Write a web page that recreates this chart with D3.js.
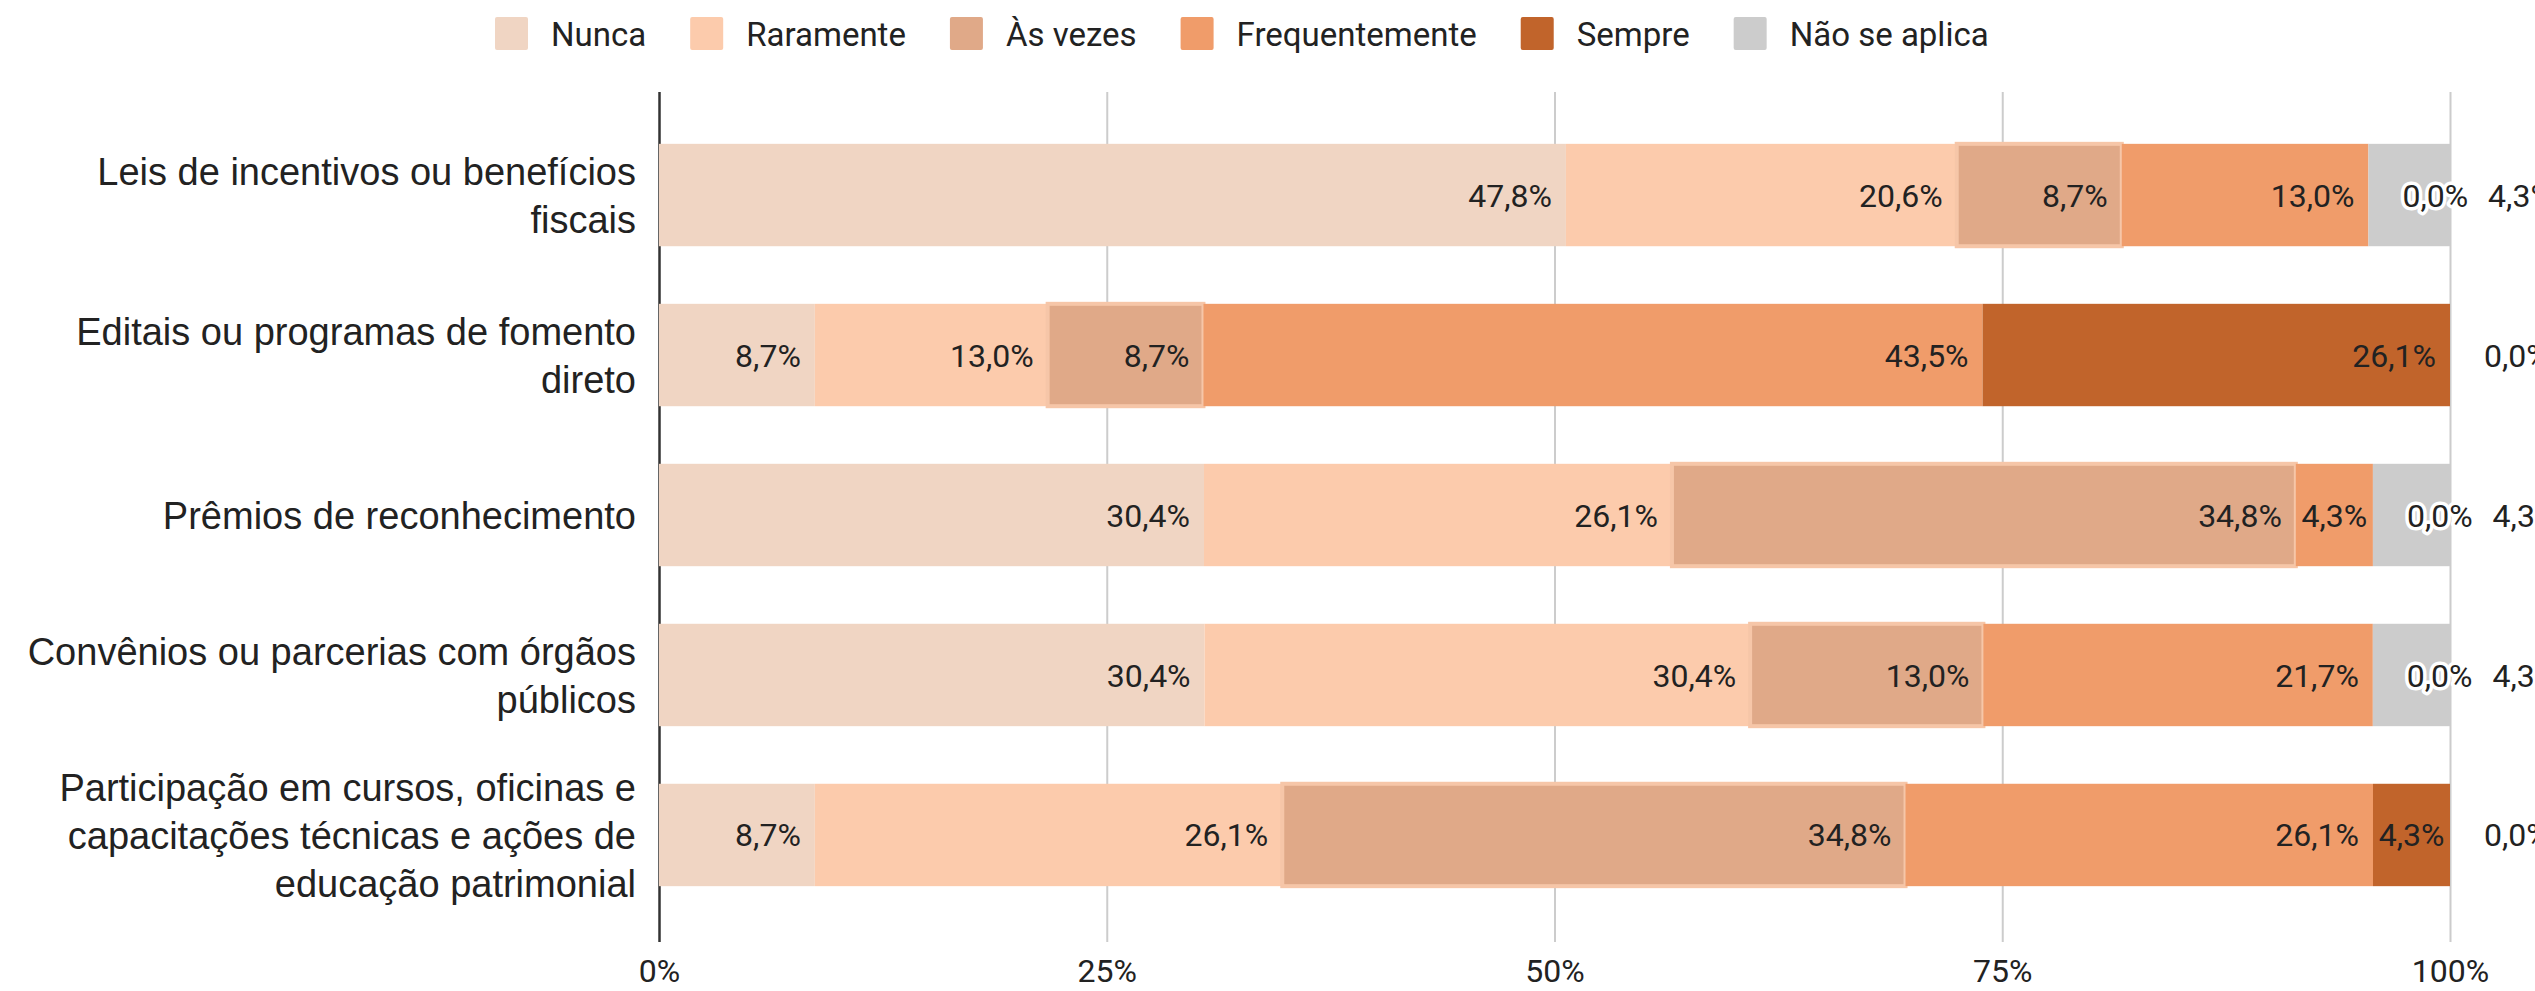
<!DOCTYPE html>
<meta charset="utf-8">
<style>
body { margin: 0; background: #fff; }
</style>
<svg width="2535" height="991"><style>
.grid line {
  stroke: #cccccc;
  stroke-width: 2px;
}

.grid text {
  font: 32px Roboto, sans-serif;
  fill: #222;
}

.cat text {
  font: 38px "Liberation Sans", Arial, sans-serif;
  fill: #222;
}

.legend text {
  font: 33px Roboto, sans-serif;
  fill: #222;
}

.val {
  font: 32px Roboto, sans-serif;
  fill: #222;
}

.val.out {
  stroke: #fff;
  stroke-width: 7px;
  stroke-linejoin: round;
  paint-order: stroke;
}
</style></svg>
<script src="https://d3js.org/d3.v7.min.js"></script>
<script>
  var categories = [
    "Leis de incentivos ou benefícios\nfiscais",
    "Editais ou programas de fomento\ndireto",
    "Prêmios de reconhecimento",
    "Convênios ou parcerias com órgãos\npúblicos",
    "Participação em cursos, oficinas e\ncapacitações técnicas e ações de\neducação patrimonial"
  ];
  var seriesNames = ["Nunca", "Raramente", "Às vezes", "Frequentemente", "Sempre", "Não se aplica"];
  var seriesColors = ["#f0d5c3", "#fccbac", "#e0a988", "#f09c6a", "#c1642b", "#cccccc"];

  var nunca          = [47.8,  8.7, 30.4, 30.4,  8.7];
  var raramente      = [20.6, 13.0, 26.1, 30.4, 26.1];
  var asVezes        = [ 8.7,  8.7, 34.8, 13.0, 34.8];
  var frequentemente = [13.0, 43.5,  4.3, 21.7, 26.1];
  var sempre         = [ 0.0, 26.1,  0.0,  0.0,  4.3];
  var naoSeAplica    = [ 4.3,  0.0,  4.3,  4.3,  0.0];

  var tickValues = [0, 0.25, 0.5, 0.75, 1];

  var allSeries = [nunca, raramente, asVezes, frequentemente, sempre, naoSeAplica];
  var rows = categories.map(function(c, i) {
    var r = { cat: c };
    seriesNames.forEach(function(s, j) { r[s] = allSeries[j][i]; });
    return r;
  });

  var svg = d3.select("svg");
  var pt = d3.formatLocale({ decimal: ",", thousands: ".", grouping: [3], currency: ["R$", ""] });
  var fmtVal = function(v) { return pt.format(".1f")(v) + "%"; };

  var x = d3.scaleLinear().domain([0, 1]).range([659, 2450]);
  var y = d3.scaleBand().domain(categories).range([92, 938]).paddingInner(0.36).paddingOuter(0.324);

  // grid + axis labels
  var grid = svg.append("g")
      .attr("class", "grid")
      .attr("transform", "translate(0,942)")
      .call(d3.axisBottom(x)
        .tickValues(tickValues)
        .tickFormat(pt.format(".0%"))
        .tickSize(-850)
        .tickPadding(17));
  grid.select(".domain").remove();
  grid.selectAll(".tick text").attr("fill", "#222");
  grid.selectAll(".tick line").filter(function(d) { return d === 0; })
      .style("stroke", "#333").style("stroke-width", "2.5px");

  // stacked bars
  var stack = d3.stack().keys(seriesNames).offset(d3.stackOffsetExpand);
  var layers = stack(rows);

  var layer = svg.append("g").selectAll("g")
      .data(layers)
      .enter().append("g")
      .attr("fill", function(d, i) { return seriesColors[i]; });

  layer.selectAll("rect")
      .data(function(d) { return d; })
      .enter().append("rect")
      .attr("x", function(d) { return x(d[0]); })
      .attr("y", function(d) { return y(d.data.cat); })
      .attr("width", function(d) { return x(d[1]) - x(d[0]); })
      .attr("height", y.bandwidth());

  // the "Às vezes" segments carry a light outline in the reference
  layer.filter(function(d) { return d.key === "Às vezes"; }).selectAll("rect")
      .attr("stroke", "#f6c6a8").attr("stroke-width", 4);

  // value labels: inside the segment end when they fit, otherwise pushed
  // out to the right one after another
  var labels = svg.append("g");
  rows.forEach(function(r, ri) {
    var nextX = null;
    layers.forEach(function(L) {
      var d = L[ri];
      var v = d.data[L.key];
      var x0 = x(d[0]), x1 = x(d[1]), w = x1 - x0;
      var cy = y(d.data.cat) + y.bandwidth() / 2;
      var t = labels.append("text")
          .attr("class", "val")
          .attr("y", cy)
          .attr("dy", "0.36em")
          .text(fmtVal(v));
      var tw = t.node().getComputedTextLength();
      if (nextX === null && tw <= w - 4) {
        var pad = Math.min(14, (w - tw) / 2);
        t.attr("x", x1 - pad).attr("text-anchor", "end");
      } else {
        var lx = Math.max(x1 + 34, nextX === null ? 0 : nextX);
        t.attr("x", lx).attr("text-anchor", "start").classed("out", true);
        nextX = lx + tw + 20;
      }
    });
  });

  // category labels
  var cat = svg.append("g").attr("class", "cat");
  categories.forEach(function(c) {
    var lines = c.split("\n");
    var cy = y(c) + y.bandwidth() / 2;
    var t = cat.append("text").attr("text-anchor", "end");
    lines.forEach(function(line, i) {
      t.append("tspan")
        .attr("x", 636)
        .attr("y", cy + (i - (lines.length - 1) / 2) * 48)
        .attr("dy", "0.36em")
        .text(line);
    });
  });

  // legend
  var legend = svg.append("g").attr("class", "legend");
  var lx = 0;
  seriesNames.forEach(function(s, i) {
    var item = legend.append("g").attr("transform", "translate(" + lx + ",0)");
    item.append("rect")
      .attr("x", 0).attr("y", 17).attr("width", 33).attr("height", 33)
      .attr("rx", 2)
      .attr("fill", seriesColors[i]);
    var t = item.append("text")
      .attr("x", 56).attr("y", 34).attr("dy", "0.36em")
      .text(s);
    lx += 56 + t.node().getComputedTextLength() + 44;
  });
  var lw = lx - 44;
  legend.attr("transform", "translate(" + Math.round(1242 - lw / 2) + ",0)");
</script>
